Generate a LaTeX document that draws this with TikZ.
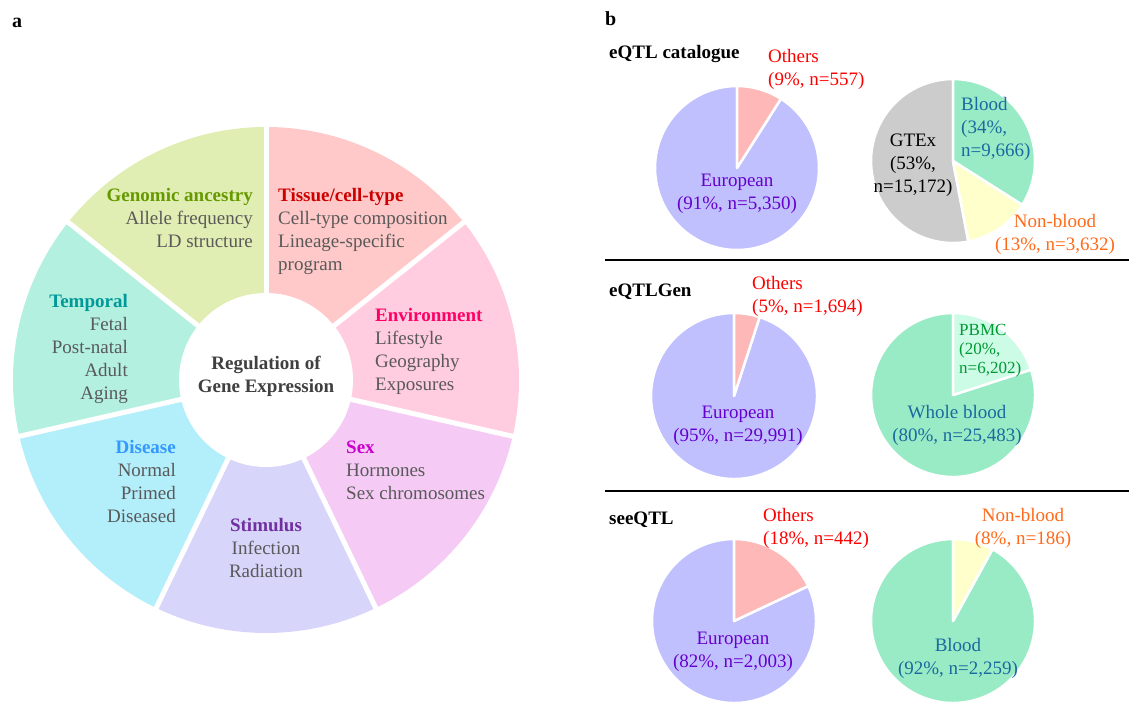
\documentclass[tikz,border=0pt]{standalone}
\usepackage{fontspec}
\setmainfont{Liberation Serif}
\definecolor{cTissue}{HTML}{FFC9C9}
\definecolor{cEnv}{HTML}{FFCCE0}
\definecolor{cSex}{HTML}{F5CBF5}
\definecolor{cStim}{HTML}{D8D5FB}
\definecolor{cDis}{HTML}{B3EEFB}
\definecolor{cTemp}{HTML}{B3F0E0}
\definecolor{cGen}{HTML}{E0EEB3}
\definecolor{tTissue}{HTML}{CC0000}
\definecolor{tEnv}{HTML}{FF0066}
\definecolor{tSex}{HTML}{CC00CC}
\definecolor{tStim}{HTML}{7030A0}
\definecolor{tDis}{HTML}{3399FF}
\definecolor{tTemp}{HTML}{009999}
\definecolor{tGen}{HTML}{669900}
\definecolor{bodygray}{HTML}{595959}
\definecolor{centergray}{HTML}{404040}
\definecolor{pEur}{HTML}{C0C0FF}
\definecolor{pOth}{HTML}{FFB8B8}
\definecolor{pGTEx}{HTML}{CCCCCC}
\definecolor{pBlood}{HTML}{99EBC6}
\definecolor{pNon}{HTML}{FFFFCC}
\definecolor{pPBMC}{HTML}{CCFBE6}
\definecolor{tOth}{HTML}{FF0000}
\definecolor{tEur}{HTML}{6600CC}
\definecolor{tBlood}{HTML}{1A6AA0}
\definecolor{tNon}{HTML}{FF6A1A}
\definecolor{tPBMC}{HTML}{009933}
\begin{document}
\begin{tikzpicture}[x=1pt,y=-1pt,
  lbl/.style={font=\fontsize{19}{23}\selectfont, inner sep=0pt},
  body/.style={lbl, text=bodygray},
  small/.style={font=\fontsize{17}{19}\selectfont, inner sep=0pt},
  ttl/.style={font=\fontsize{19}{22}\selectfont\bfseries, inner sep=0pt, anchor=base west},
  panel/.style={font=\fontsize{20}{24}\selectfont\bfseries, inner sep=0pt, anchor=base west},
  slice/.style={draw=white, line width=2.5pt, line join=round},
  gap/.style={draw=white, line width=5pt},
  sep/.style={draw=black, line width=2pt}]
\useasboundingbox (0,0) rectangle (1129,701);
% ---------- panel a ----------
\node[panel] (la) at (12,28) {a};
\coordinate (C) at (266,380);
\def\R{253}
\fill[cTissue] (C) -- ++(-90:\R) arc[start angle=-90, end angle=-38.571, radius=\R] -- cycle;
\fill[cEnv] (C) -- ++(-38.571:\R) arc[start angle=-38.571, end angle=12.857, radius=\R] -- cycle;
\fill[cSex] (C) -- ++(12.857:\R) arc[start angle=12.857, end angle=64.286, radius=\R] -- cycle;
\fill[cStim] (C) -- ++(64.286:\R) arc[start angle=64.286, end angle=115.714, radius=\R] -- cycle;
\fill[cDis] (C) -- ++(115.714:\R) arc[start angle=115.714, end angle=167.143, radius=\R] -- cycle;
\fill[cTemp] (C) -- ++(167.143:\R) arc[start angle=167.143, end angle=218.571, radius=\R] -- cycle;
\fill[cGen] (C) -- ++(218.571:\R) arc[start angle=218.571, end angle=270, radius=\R] -- cycle;
\foreach \a in {-90,-38.571,12.857,64.286,115.714,167.143,218.571}
  \draw[gap] (C) -- ++(\a:\R+4);
\fill[white] (C) circle[radius=87];
\node[lbl, font=\fontsize{19}{23}\selectfont\bfseries, text=centergray, align=center, anchor=north] (center) at (266,353) {\strut Regulation of\\Gene Expression};
\node[body, align=right, anchor=north east] (gen) at (253,185) {\strut\textcolor{tGen}{\textbf{Genomic ancestry}}\\Allele frequency\\LD structure};
\node[body, align=left, anchor=north west] (tis) at (278,185) {\strut\textcolor{tTissue}{\textbf{Tissue/cell-type}}\\Cell-type composition\\Lineage-specific\\program};
\node[body, align=left, anchor=north west] (env) at (375,305) {\strut\textcolor{tEnv}{\textbf{Environment}}\\Lifestyle\\Geography\\Exposures};
\node[body, align=left, anchor=north west] (sex) at (346,437) {\strut\textcolor{tSex}{\textbf{Sex}}\\Hormones\\Sex chromosomes};
\node[body, align=center, anchor=north] (stim) at (266,515) {\strut\textcolor{tStim}{\textbf{Stimulus}}\\Infection\\Radiation};
\node[body, align=right, anchor=north east] (dis) at (176,437) {\strut\textcolor{tDis}{\textbf{Disease}}\\Normal\\Primed\\Diseased};
\node[body, align=right, anchor=north east] (temp) at (128,291) {\strut\textcolor{tTemp}{\textbf{Temporal}}\\Fetal\\Post-natal\\Adult\\Aging};
% ---------- panel b ----------
\node[panel] (lb) at (605,26) {b};
\coordinate (s1l) at (605,260); \coordinate (s1r) at (1129,260);
\coordinate (s2l) at (605,491); \coordinate (s2r) at (1129,491);
\draw[sep] (s1l) -- (s1r);
\draw[sep] (s2l) -- (s2r);
% eQTL catalogue
\node[ttl] (t1) at (609,59) {eQTL catalogue};
\coordinate (P1) at (737,168);
\fill[pEur, slice] (P1) -- ++(-57.6:82) arc[start angle=-57.6, end angle=270, radius=82] -- cycle;
\fill[pOth, slice] (P1) -- ++(-90:82) arc[start angle=-90, end angle=-57.6, radius=82] -- cycle;
\coordinate (P2) at (953,161);
\fill[pGTEx, slice] (P2) -- ++(79.2:82) arc[start angle=79.2, end angle=270, radius=82] -- cycle;
\fill[pBlood, slice] (P2) -- ++(-90:82) arc[start angle=-90, end angle=32.4, radius=82] -- cycle;
\fill[pNon, slice] (P2) -- ++(32.4:82) arc[start angle=32.4, end angle=79.2, radius=82] -- cycle;
\node[lbl, text=tOth, align=left, anchor=north west] (o1) at (768,46) {\strut Others\\(9\%, n=557)};
\node[lbl, text=tEur, align=center, anchor=north] (e1) at (737,170) {\strut European\\(91\%, n=5,350)};
\node[lbl, text=tBlood, align=left, anchor=north west] (b1) at (961,94) {\strut Blood\\(34\%,\\n=9,666)};
\node[lbl, text=black, align=center, anchor=north] (g1) at (913,130) {\strut GTEx\\(53\%,\\n=15,172)};
\node[lbl, text=tNon, align=center, anchor=north] (n1) at (1055,211) {\strut Non-blood\\(13\%, n=3,632)};
% eQTLGen
\node[ttl] (t2) at (609,296) {eQTLGen};
\coordinate (P3) at (734,396);
\fill[pEur, slice] (P3) -- ++(-72:83) arc[start angle=-72, end angle=270, radius=83] -- cycle;
\fill[pOth, slice] (P3) -- ++(-90:83) arc[start angle=-90, end angle=-72, radius=83] -- cycle;
\coordinate (P4) at (953,395);
\fill[pBlood, slice] (P4) -- ++(-18:82) arc[start angle=-18, end angle=270, radius=82] -- cycle;
\fill[pPBMC, slice] (P4) -- ++(-90:82) arc[start angle=-90, end angle=-18, radius=82] -- cycle;
\node[lbl, text=tOth, align=left, anchor=north west] (o2) at (752,273) {\strut Others\\(5\%, n=1,694)};
\node[lbl, text=tEur, align=center, anchor=north] (e2) at (738,402) {\strut European\\(95\%, n=29,991)};
\node[small, text=tPBMC, align=left, anchor=north west] (pb) at (959,322) {\strut PBMC\\(20\%,\\n=6,202)};
\node[lbl, text=tBlood, align=center, anchor=north] (wb) at (957,402) {\strut Whole blood\\(80\%, n=25,483)};
% seeQTL
\node[ttl] (t3) at (609,524) {seeQTL};
\coordinate (P5) at (734,621);
\fill[pEur, slice] (P5) -- ++(-25.2:82) arc[start angle=-25.2, end angle=270, radius=82] -- cycle;
\fill[pOth, slice] (P5) -- ++(-90:82) arc[start angle=-90, end angle=-25.2, radius=82] -- cycle;
\coordinate (P6) at (953,621);
\fill[pBlood, slice] (P6) -- ++(-61.2:82) arc[start angle=-61.2, end angle=270, radius=82] -- cycle;
\fill[pNon, slice] (P6) -- ++(-90:82) arc[start angle=-90, end angle=-61.2, radius=82] -- cycle;
\node[lbl, text=tOth, align=left, anchor=north west] (o3) at (763,505) {\strut Others\\(18\%, n=442)};
\node[lbl, text=tEur, align=center, anchor=north] (e3) at (733,628) {\strut European\\(82\%, n=2,003)};
\node[lbl, text=tNon, align=center, anchor=north] (n3) at (1023,505) {\strut Non-blood\\(8\%, n=186)};
\node[lbl, text=tBlood, align=center, anchor=north] (b3) at (958,635) {\strut Blood\\(92\%, n=2,259)};
\end{tikzpicture}
\end{document}
